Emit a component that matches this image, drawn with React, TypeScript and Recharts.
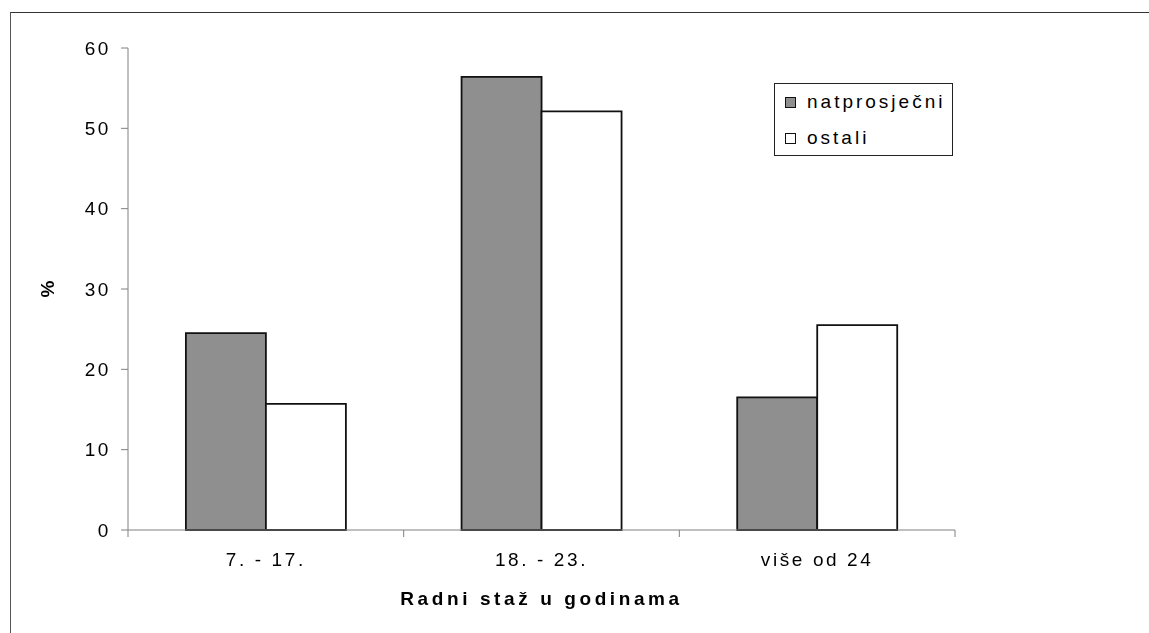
import React from 'react';
import { BarChart, Bar, XAxis, YAxis, Legend } from 'recharts';

const categories = ['7. - 17.', '18. - 23.', 'više od 24'];
const natprosjecni = [24.5, 56.4, 16.5];
const ostali = [15.7, 52.1, 25.5];
const yTicks = [0, 10, 20, 30, 40, 50, 60];

const seriesInfo = [
  { key: 'natprosjecni', name: 'natprosječni', fill: '#8f8f8f' },
  { key: 'ostali', name: 'ostali', fill: '#ffffff' },
];

const data = categories.map((c, i) => ({
  cat: c,
  natprosjecni: natprosjecni[i],
  ostali: ostali[i],
}));

const FONT = '"Liberation Sans", Arial, sans-serif';
const AXIS = '#808080';
const FS = 19;
const LS = 2.6;

const LegendBox = () => (
  <div
    style={{
      boxSizing: 'border-box',
      width: 179,
      height: 73,
      border: '1px solid #222',
      background: '#fff',
      fontFamily: FONT,
      fontSize: FS,
      letterSpacing: 3,
      color: '#000',
    }}
  >
    {seriesInfo.map((s) => (
      <div key={s.key} style={{ height: 36, display: 'flex', alignItems: 'center', paddingLeft: 10 }}>
        <span
          style={{
            display: 'inline-block',
            boxSizing: 'border-box',
            width: 11,
            height: 11,
            border: '1px solid #111',
            background: s.fill,
            marginRight: 11,
          }}
        />
        <span>{s.name}</span>
      </div>
    ))}
  </div>
);

const YLabel = (props: any) => {
  const vb = props.viewBox || {};
  const cx = vb.x - 21;
  const cy = vb.y + vb.height / 2;
  return (
    <text
      x={cx}
      y={cy}
      transform={`rotate(-90 ${cx} ${cy})`}
      textAnchor="middle"
      dominantBaseline="central"
      fontFamily={FONT}
      fontWeight="bold"
      fontSize={FS}
      fill="#000"
    >
      %
    </text>
  );
};

// Category label at band centre plus tick marks at the band boundaries
const CatTick = (props: any) => {
  const { x, y, payload, index, visibleTicksCount, width } = props;
  const n = visibleTicksCount || categories.length;
  const band = typeof width === 'number' ? width / n : 0;
  const left = x - band / 2;
  const right = x + band / 2;
  return (
    <g>
      {band > 0 && <line x1={left} y1={y} x2={left} y2={y + 7} stroke={AXIS} />}
      {band > 0 && index === n - 1 && <line x1={right} y1={y} x2={right} y2={y + 7} stroke={AXIS} />}
      <text
        x={x}
        y={y + 23}
        dy="0.71em"
        textAnchor="middle"
        fontFamily={FONT}
        fontSize={FS}
        letterSpacing={LS}
        fill="#000"
      >
        {payload.value}
      </text>
    </g>
  );
};

export default function App() {
  return (
    <>
      <div
        style={{
          position: 'fixed',
          left: 10,
          top: 12,
          width: 1400,
          height: 900,
          borderTop: '1px solid #333',
          borderLeft: '1px solid #555',
        }}
      />
      <div style={{ position: 'fixed', left: 0, top: 0, width: 1149, height: 633 }}>
        <BarChart
          width={1149}
          height={633}
          data={data}
          margin={{ top: 48, right: 194, bottom: 102, left: 68 }}
          barCategoryGap="21%"
          barGap={0}
        >
          <XAxis
            dataKey="cat"
            height={1}
            tickLine={false}
            tickSize={0}
            tickMargin={0}
            interval={0}
            axisLine={{ stroke: AXIS }}
            tick={<CatTick />}
            label={{
              value: 'Radni staž u godinama',
              position: 'insideTop',
              offset: 62,
              fontFamily: FONT,
              fontSize: FS,
              fontWeight: 'bold',
              fill: '#000',
              letterSpacing: 3.6,
            }}
          />
          <YAxis
            width={60}
            domain={[0, 60]}
            ticks={yTicks}
            tickSize={7}
            tickMargin={10}
            axisLine={{ stroke: AXIS }}
            tickLine={{ stroke: AXIS }}
            tick={{ fontFamily: FONT, fontSize: FS, fill: '#000', letterSpacing: LS }}
            label={<YLabel />}
          />
          <Legend
            layout="horizontal"
            verticalAlign="middle"
            align="center"
            content={<LegendBox />}
            wrapperStyle={{ left: 774, top: 83, width: 179, height: 73 }}
          />
          {seriesInfo.map((s) => (
            <Bar
              key={s.key}
              dataKey={s.key}
              name={s.name}
              fill={s.fill}
              stroke="#111"
              strokeWidth={1.8}
              isAnimationActive={false}
            />
          ))}
        </BarChart>
      </div>
    </>
  );
}
